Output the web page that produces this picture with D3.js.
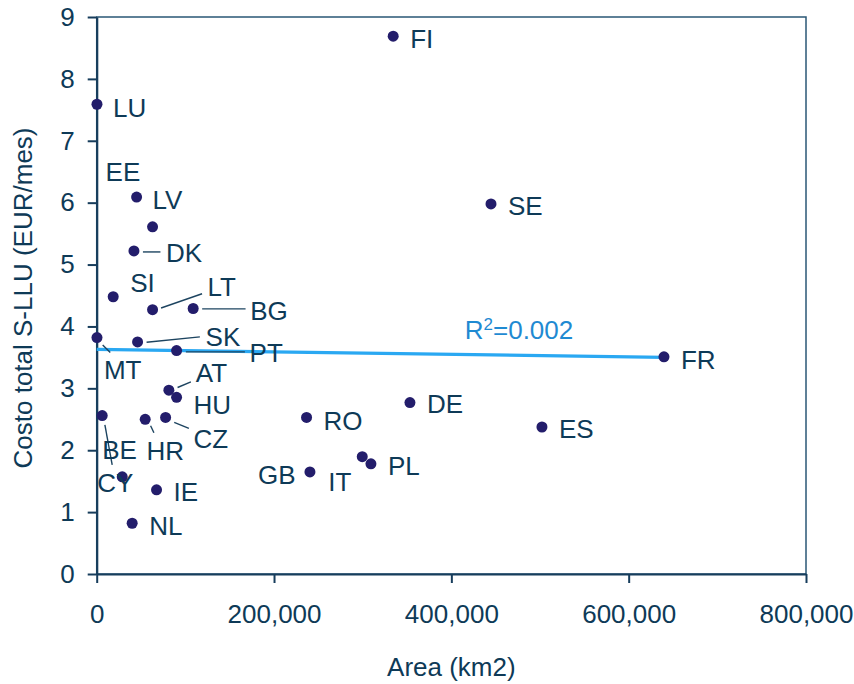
<!DOCTYPE html>
<html>
<head>
<meta charset="utf-8">
<script src="https://cdn.jsdelivr.net/npm/d3@7"></script>
<style>
  html, body { margin: 0; padding: 0; background: #fff; }
  svg { display: block; font-family: "Liberation Sans", Arial, sans-serif; }
</style>
</head>
<body>
<svg id="chart" width="854" height="684"></svg>
<script>
// ---- data ----
const countries = ["FI","LU","EE","LV","DK","SI","LT","BG","MT","SK","PT","AT","HU","CY","HR","CZ","RO","BE","GB","IE","NL","IT","PL","DE","ES","FR","SE"];
const areaKm2   = [334400, 300, 45000, 63000, 42000, 18600, 63000, 108800, 300, 46100, 90100, 81400, 90100, 6200, 54700, 77700, 236700, 28800, 240500, 67500, 40000, 299500, 309300, 353300, 502200, 639800, 444700];
const costEur   = [8.69, 7.59, 6.09, 5.61, 5.22, 4.48, 4.27, 4.29, 3.82, 3.75, 3.61, 2.97, 2.855, 2.56, 2.50, 2.53, 2.53, 1.57, 1.65, 1.36, 0.82, 1.895, 1.78, 2.77, 2.375, 3.51, 5.98];
const trendX = [0, 640000];
const trendY = [3.63, 3.50];
const r2Parts = ["R", "2", "=0.002"];
const xTicks = [0, 200000, 400000, 600000, 800000];
const yTicks = [0,1,2,3,4,5,6,7,8,9];
const xTitle = "Area (km2)";
const yTitle = "Costo total S-LLU (EUR/mes)";

// ---- layout (label offsets in px relative to point; optional leader line) ----
const labelOffsets = [
  [17,2],[16,3],[-31,-25],[0,-27],[32,2],[17,-14],[55,-23],[57,2],[7,32],[68,-5.5],
  [73,2],[27,-18],[17,7],[-5,67.5],[1.4,31],[28,21],[17,3],[-20,-27],[-52,3],[17,2],
  [17,2],[-34,25],[17,1.5],[17,1.5],[17,1.5],[17,2.5],[17,2]
];
// leader segments: [x1,y1,x2,y2] relative to point, or null
const leaders = [
  null,null,null,null,[9,1,26.5,1],null,[8.5,-1.7,49.5,-16],[9,0.4,52.4,0.4],[5.7,7.3,13.3,15],[9,0.3,62.3,-5],
  [9.3,1.3,68.3,1.3],[8.7,-2.7,22,-8.3],null,[2.7,9.3,10,49.3],[5.4,6.4,8.7,13.4],[8.6,5,23.3,11],null,null,null,null,
  null,null,null,null,null,null,null
];

const W = 854, H = 684;
const margin = {left: 96.7, top: 17, right: W - 806, bottom: H - 574};
const svg = d3.select("#chart");
const textCol = "#0e3a57";
const axisCol = "#173d5c";
const dotCol = "#231d6b";
const trendCol = "#2aa8f2";

const x = d3.scaleLinear().domain([0, 800000]).range([margin.left, W - margin.right]);
const y = d3.scaleLinear().domain([0, 9]).range([H - margin.bottom, margin.top]);

// frame (top + right)
svg.append("rect")
  .attr("x", x(0)).attr("y", y(9))
  .attr("width", x(800000) - x(0)).attr("height", y(0) - y(9))
  .attr("fill", "none").attr("stroke", "#2a5776").attr("stroke-width", 1.5);

// axes
const fmt = d3.format(",");
const xAxis = svg.append("g")
  .attr("transform", `translate(0,${y(0)})`)
  .call(d3.axisBottom(x).tickValues(xTicks).tickFormat(fmt).tickSize(9).tickPadding(22).tickSizeOuter(0));
const yAxis = svg.append("g")
  .attr("transform", `translate(${x(0)},0)`)
  .call(d3.axisLeft(y).tickValues(yTicks).tickFormat(d3.format("d")).tickSize(9).tickPadding(13).tickSizeOuter(0));
[xAxis, yAxis].forEach(g => {
  g.select(".domain").attr("stroke", axisCol).attr("stroke-width", 2.2);
  g.selectAll(".tick line").attr("stroke", axisCol).attr("stroke-width", 2);
  g.selectAll(".tick text").attr("fill", textCol).style("font-size", "26px")
    .style("font-family", '"Liberation Sans", Arial, sans-serif');
});

// trend line
svg.append("line")
  .attr("x1", x(trendX[0])).attr("y1", y(trendY[0]))
  .attr("x2", x(trendX[1])).attr("y2", y(trendY[1]))
  .attr("stroke", trendCol).attr("stroke-width", 3.2);

const r2 = svg.append("text")
  .attr("x", 519).attr("y", 339)
  .attr("text-anchor", "middle")
  .attr("fill", "#1f8ad2").style("font-size", "26px");
r2.append("tspan").text(r2Parts[0]);
r2.append("tspan").attr("dy", -9).style("font-size", "17px").text(r2Parts[1]);
r2.append("tspan").attr("dy", 9).text(r2Parts[2]);

// leaders
const pts = countries.map((c, i) => ({c, px: x(areaKm2[i]), py: y(costEur[i]), off: labelOffsets[i], ld: leaders[i]}));
svg.append("g").selectAll("line").data(pts.filter(p => p.ld)).join("line")
  .attr("x1", p => p.px + p.ld[0]).attr("y1", p => p.py + p.ld[1])
  .attr("x2", p => p.px + p.ld[2]).attr("y2", p => p.py + p.ld[3])
  .attr("stroke", "#1d4460").attr("stroke-width", 1.4);

// points
svg.append("g").selectAll("circle").data(pts).join("circle")
  .attr("cx", p => p.px).attr("cy", p => p.py).attr("r", 5.5)
  .attr("fill", dotCol);

// labels
svg.append("g").selectAll("text").data(pts).join("text")
  .attr("x", p => p.px + p.off[0]).attr("y", p => p.py + p.off[1])
  .attr("dy", "0.36em")
  .attr("fill", textCol).style("font-size", "26px")
  .text(p => p.c);

// axis titles
svg.append("text")
  .attr("x", (x(0) + x(800000)) / 2).attr("y", 667).attr("dy", "0.36em")
  .attr("text-anchor", "middle").attr("fill", textCol).style("font-size", "26px")
  .text(xTitle);
svg.append("text")
  .attr("transform", `translate(23,298) rotate(-90)`)
  .attr("dy", "0.36em")
  .attr("text-anchor", "middle").attr("fill", textCol).style("font-size", "26px")
  .text(yTitle);
</script>
</body>
</html>
